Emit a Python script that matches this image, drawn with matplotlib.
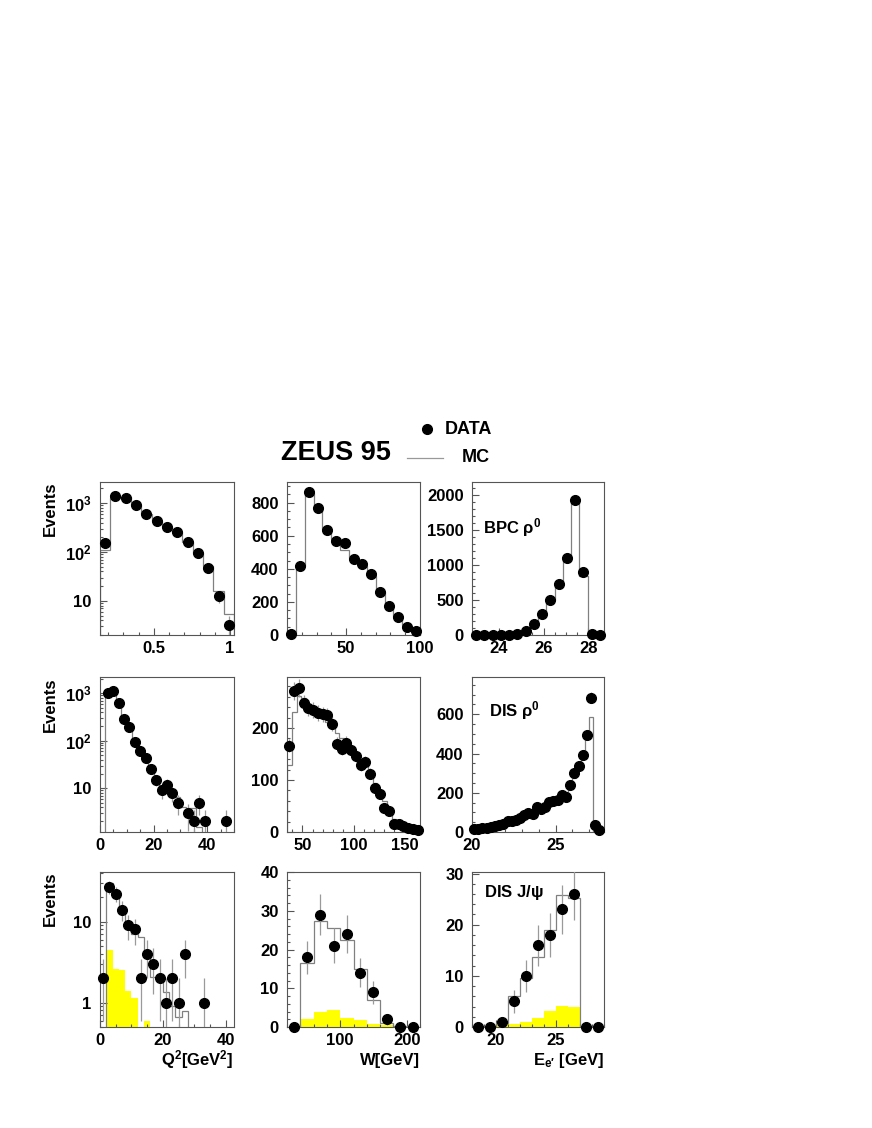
import numpy as np
import matplotlib
matplotlib.use('Agg')
import matplotlib.pyplot as plt
from matplotlib.ticker import MultipleLocator, FixedLocator, FixedFormatter, LogLocator, NullFormatter
from matplotlib.lines import Line2D

plt.rcParams['font.family'] = ['Liberation Sans', 'DejaVu Sans']
plt.rcParams['font.weight'] = 'bold'
plt.rcParams['mathtext.fontset'] = 'custom'
plt.rcParams['mathtext.rm'] = 'Liberation Sans:bold'
plt.rcParams['mathtext.bf'] = 'Liberation Sans:bold'
plt.rcParams['mathtext.it'] = 'Liberation Sans:bold'
plt.rcParams['mathtext.default'] = 'rm'

# --- BPC rho0 (top row) ---
bpc_x_range = (0.146, 1.026, 13)
bpc_x_data = [150, 1400, 1300, 925, 600, 435, 330, 255, 158, 94, 48, 12.5, 3.2]
bpc_x_mc = [110, 1250, 1350, 900, 610, 440, 330, 255, 160, 95, 52, 16, 5.5]

bpc_w_range = (10, 100, 15)
bpc_w_data = [5, 420, 862, 766, 632, 571, 555, 461, 427, 371, 261, 176, 110, 50, 26]
bpc_w_mc = [0, 420, 860, 770, 640, 580, 515, 465, 420, 355, 262, 180, 112, 60, 32]

bpc_e_range = (22.8, 28.7, 16)
bpc_e_data = [3, 4, 5, 5, 6, 10, 60, 150, 300, 495, 720, 1100, 1930, 900, 10, 5]
bpc_e_mc = [2, 3, 4, 5, 6, 12, 55, 145, 300, 500, 720, 1100, 1930, 840, 0, 0]

# --- DIS rho0 (middle row) ---
dis_q2_range = (2, 50, 24)
dis_q2_data = [1000, 1120, 616, 288, 192, 96, 62, 44, 25, 15, 9, 12, 8, 5, 0, 3, 2, 5, 2, 0, 0, 0, 2, 0]
dis_q2_mc = [900, 1060, 620, 300, 185, 105, 64, 42, 27, 18, 12, 9.5, 7, 6.6, 4, 3.8, 3.8, 1.5, 1.1, 0.9, 0.8, 0.7, 0.6, 0.5]

dis_w_range = (35, 165, 28)
dis_w_data = [166, 271, 277, 248, 239, 234, 229, 226, 224, 208, 170, 160, 172, 158, 146, 129, 135, 112,
              84, 74, 47, 41, 15, 15, 11, 8, 5, 3]
dis_w_mc = [128, 230, 262, 258, 245, 238, 230, 222, 212, 200, 190, 180, 170, 160, 150, 140, 128, 115,
            95, 80, 60, 45, 25, 20, 14, 9, 6, 4]

dis_e_range = (20, 27.75, 31)
dis_e_data = [15, 17, 20, 22, 25, 30, 35, 42, 55, 58, 62, 70, 85, 95, 90, 125, 115, 125, 155, 160,
              165, 190, 180, 240, 300, 335, 390, 495, 685, 35, 10]
dis_e_mc = [14, 16, 19, 22, 26, 30, 35, 42, 50, 56, 63, 72, 82, 90, 100, 112, 122, 135, 148, 160,
            172, 185, 205, 235, 275, 325, 415, 475, 585, 0, 0]

# --- DIS J/psi (bottom row) ---
jpsi_q2_range = (0, 42, 21)
jpsi_q2_data = [2, 27, 22, 14, 9, 8, 2, 4, 3, 2, 1, 2, 1, 4, 0, 0, 1, 0, 0, 0, 0]
jpsi_q2_mc = [0, 30, 20, 14, 10, 7, 6.5, 4.3, 2.1, 2.0, 1.35, 0.9, 0.66, 0.78, 0.4, 0.3, 0.2, 0, 0, 0, 0]
jpsi_q2_bkg = [0, 4.5, 2.6, 2.55, 1.4, 1.15, 0, 0.6, 0, 0, 0, 0, 0, 0, 0, 0, 0, 0, 0, 0, 0]

jpsi_w_range = (20, 220, 10)
jpsi_w_data = [0, 18, 29, 21, 24, 14, 9, 2, 0, 0]
jpsi_w_mc = [0, 16.5, 27.3, 25.5, 22.5, 14.9, 7, 1.1, 0.3, 0]
jpsi_w_bkg = [0, 2.0, 3.9, 4.3, 2.4, 1.9, 0.9, 0.4, 0, 0]

jpsi_e_range = (18, 29, 11)
jpsi_e_data = [0, 0, 1, 5, 10, 16, 18, 23, 26, 0, 0]
jpsi_e_mc = [0, 0, 0.8, 6, 9.5, 13.6, 19, 25.8, 25.2, 0, 0]
jpsi_e_bkg = [0, 0, 0.3, 0.65, 1.0, 1.7, 3.1, 4.2, 3.9, 0, 0]

FIG_W, FIG_H = 872, 1128
fig = plt.figure(figsize=(FIG_W / 100, FIG_H / 100), dpi=100)

col_x = [(100, 234), (287, 420), (472, 604)]
row_y = [(482, 635), (677, 832), (872, 1027)]

FRAME = '#555555'
MC_COL = '#808080'
ERR_COL = '#9a9a9a'


def make_ax(r, c):
    x0, x1 = col_x[c]
    y0, y1 = row_y[r]
    ax = fig.add_axes([x0 / FIG_W, 1 - y1 / FIG_H, (x1 - x0) / FIG_W, (y1 - y0) / FIG_H])
    for s in ax.spines.values():
        s.set_color(FRAME)
        s.set_linewidth(0.8)
    ax.tick_params(which='both', direction='in', top=False, right=False, colors=FRAME,
                   labelcolor='black', labelsize=12, width=0.8)
    ax.tick_params(which='major', length=5)
    ax.tick_params(which='minor', length=2.5)
    ax.tick_params(axis='y', pad=6)
    ax.tick_params(axis='x', pad=4)
    return ax


def draw(ax, rng, data, mc, bkg=None, log=False, ylim=None):
    lo, hi, n = rng
    edges = np.linspace(lo, hi, n + 1)
    centers = 0.5 * (edges[1:] + edges[:-1])
    data = np.array(data, float)
    mc = np.array(mc, float)
    ax.set_xlim(lo, hi)
    if log:
        ax.set_yscale('log')
    ax.set_ylim(*ylim)
    base = ylim[0] * 0.5 if log else 0
    if bkg is not None:
        b = np.clip(np.array(bkg, float), 1e-3, None) if log else np.array(bkg, float)
        ax.stairs(b, edges, baseline=base, fill=True, color='#ffff00', lw=0, zorder=1)
    m = np.clip(mc, 1e-3, None) if log else mc
    ax.stairs(m, edges, baseline=base, color=MC_COL, lw=0.9, zorder=2)
    err = np.sqrt(data)
    keep = data > 0 if log else np.ones_like(data, bool)
    ax.errorbar(centers[keep], data[keep], yerr=err[keep], fmt='none', ecolor=ERR_COL,
                elinewidth=0.9, capsize=0, zorder=3)
    ax.plot(centers[keep], data[keep], 'o', color='black', ms=7, clip_on=False, zorder=4)


def log_ticks(ax, majors, labels):
    ax.yaxis.set_major_locator(FixedLocator(majors))
    ax.yaxis.set_major_formatter(FixedFormatter(labels))
    ax.yaxis.set_minor_locator(LogLocator(base=10, subs=np.arange(2, 10)))
    ax.yaxis.set_minor_formatter(NullFormatter())


def lin_ticks(ax, axis, major, minor):
    a = ax.xaxis if axis == 'x' else ax.yaxis
    a.set_major_locator(MultipleLocator(major))
    a.set_minor_locator(MultipleLocator(minor))


def events(ax):
    ax.text(-0.373, 1.0, 'Events', rotation=90, ha='center', va='top', fontsize=12,
            transform=ax.transAxes)


# top row
ax = make_ax(0, 0)
draw(ax, bpc_x_range, bpc_x_data, bpc_x_mc, log=True, ylim=(2, 2700))
log_ticks(ax, [10, 100, 1000], ['10', r'$10^{2}$', r'$10^{3}$'])
ax.xaxis.set_major_locator(FixedLocator([0.5, 1.0]))
ax.xaxis.set_major_formatter(FixedFormatter(['0.5', '1']))
ax.xaxis.set_minor_locator(MultipleLocator(0.1))
events(ax)

ax = make_ax(0, 1)
draw(ax, bpc_w_range, bpc_w_data, bpc_w_mc, ylim=(0, 925))
lin_ticks(ax, 'x', 50, 10)
lin_ticks(ax, 'y', 200, 50)

ax = make_ax(0, 2)
draw(ax, bpc_e_range, bpc_e_data, bpc_e_mc, ylim=(0, 2180))
lin_ticks(ax, 'x', 2, 0.5)
lin_ticks(ax, 'y', 500, 100)
ax.text(0.083, 0.70, r'BPC $\rho^{0}$', fontsize=12, ha='left', va='center', transform=ax.transAxes)

# middle row
ax = make_ax(1, 0)
draw(ax, dis_q2_range, dis_q2_data, dis_q2_mc, log=True, ylim=(1.2, 2200))
ax.set_xlim(0, 50)
log_ticks(ax, [10, 100, 1000], ['10', r'$10^{2}$', r'$10^{3}$'])
lin_ticks(ax, 'x', 20, 5)
events(ax)

ax = make_ax(1, 1)
draw(ax, dis_w_range, dis_w_data, dis_w_mc, ylim=(0, 298))
lin_ticks(ax, 'x', 50, 10)
ax.yaxis.set_major_locator(FixedLocator([0, 100, 200]))
ax.yaxis.set_minor_locator(MultipleLocator(20))

ax = make_ax(1, 2)
draw(ax, dis_e_range, dis_e_data, dis_e_mc, ylim=(0, 790))
ax.set_xlim(20, 27.9)
lin_ticks(ax, 'x', 5, 1)
lin_ticks(ax, 'y', 200, 50)
ax.text(0.129, 0.783, r'DIS $\rho^{0}$', fontsize=12, ha='left', va='center', transform=ax.transAxes)

# bottom row
ax = make_ax(2, 0)
draw(ax, jpsi_q2_range, jpsi_q2_data, jpsi_q2_mc, bkg=jpsi_q2_bkg, log=True, ylim=(0.5, 41))
ax.set_xlim(0, 42.6)
log_ticks(ax, [1, 10], ['1', '10'])
lin_ticks(ax, 'x', 20, 5)
events(ax)
ax.text(1.0, -0.213, r'Q$^{2}$[GeV$^{2}$]', fontsize=12, ha='right', va='center', transform=ax.transAxes)

ax = make_ax(2, 1)
draw(ax, jpsi_w_range, jpsi_w_data, jpsi_w_mc, bkg=jpsi_w_bkg, ylim=(0, 40))
lin_ticks(ax, 'x', 100, 20)
lin_ticks(ax, 'y', 10, 2)
ax.text(1.0, -0.213, 'W[GeV]', fontsize=12, ha='right', va='center', transform=ax.transAxes)

ax = make_ax(2, 2)
draw(ax, jpsi_e_range, jpsi_e_data, jpsi_e_mc, bkg=jpsi_e_bkg, ylim=(0, 30.3))
lin_ticks(ax, 'x', 5, 1)
lin_ticks(ax, 'y', 10, 2)
ax.text(0.09, 0.865, r'DIS J/$\psi$', fontsize=12, ha='left', va='center', transform=ax.transAxes)
ax.text(1.0, -0.213, 'E$_{e\u2032}$ [GeV]', fontsize=12, ha='right', va='center', transform=ax.transAxes)

# title and legend
fig.text(336 / FIG_W, 1 - 452.5 / FIG_H, 'ZEUS 95', fontsize=19.5, ha='center', va='center')
fig.add_artist(Line2D([426.7 / FIG_W], [1 - 429.3 / FIG_H], marker='o', color='black', ms=7,
                      transform=fig.transFigure))
fig.text(445 / FIG_W, 1 - 429.3 / FIG_H, 'DATA', fontsize=13, ha='left', va='center')
fig.add_artist(Line2D([406.7 / FIG_W, 443.3 / FIG_W], [1 - 457.7 / FIG_H] * 2, color='#999999',
                      lw=0.9, transform=fig.transFigure))
fig.text(461.7 / FIG_W, 1 - 457.7 / FIG_H, 'MC', fontsize=13, ha='left', va='center')

fig.savefig('out.png', dpi=100)
